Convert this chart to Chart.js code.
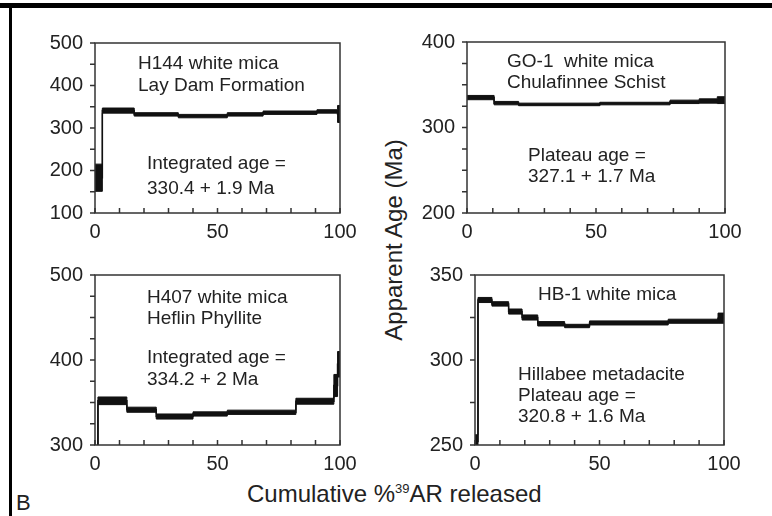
<!DOCTYPE html>
<html>
<head>
<meta charset="utf-8">
<script src="https://cdn.jsdelivr.net/npm/chart.js@4"></script>
<style>
  body { margin: 0; background: #fff; width: 772px; height: 516px; overflow: hidden; position: relative;
         font-family: "Liberation Sans", Arial, sans-serif; color: #222; }
  canvas { position: absolute; }
  .t { position: absolute; white-space: pre; line-height: 1; transform: translateY(-50%); }
  .topbar { position: absolute; left: 0; top: 3px; width: 772px; height: 5px; background: #000; }
  .leftbar { position: absolute; left: 9px; top: 3px; width: 3px; height: 513px; background: #000; }
</style>
</head>
<body>
<div class="topbar"></div>
<div class="leftbar"></div>

<canvas id="c1" width="320" height="222" style="left:45px;top:21px"></canvas>
<canvas id="c2" width="333" height="223" style="left:417px;top:20px"></canvas>
<canvas id="c3" width="320" height="222" style="left:45px;top:253px"></canvas>
<canvas id="c4" width="324" height="222" style="left:425px;top:253px"></canvas>

<div class="t" style="left:138px;top:62px;font-size:19px">H144 white mica</div>
<div class="t" style="left:138px;top:84px;font-size:19px">Lay Dam Formation</div>
<div class="t" style="left:147px;top:162px;font-size:19px">Integrated age =</div>
<div class="t" style="left:147px;top:187px;font-size:19px">330.4 + 1.9 Ma</div>

<div class="t" style="left:507px;top:60px;font-size:19px">GO-1  white mica</div>
<div class="t" style="left:507px;top:81px;font-size:19px">Chulafinnee Schist</div>
<div class="t" style="left:528px;top:154px;font-size:19px">Plateau age =</div>
<div class="t" style="left:528px;top:175px;font-size:19px">327.1 + 1.7 Ma</div>

<div class="t" style="left:147px;top:296px;font-size:19px">H407 white mica</div>
<div class="t" style="left:147px;top:317px;font-size:19px">Heflin Phyllite</div>
<div class="t" style="left:147px;top:356px;font-size:19px">Integrated age =</div>
<div class="t" style="left:147px;top:378px;font-size:19px">334.2 + 2 Ma</div>

<div class="t" style="left:538px;top:293px;font-size:19px">HB-1 white mica</div>
<div class="t" style="left:518px;top:373px;font-size:19px">Hillabee metadacite</div>
<div class="t" style="left:518px;top:394px;font-size:19px">Plateau age =</div>
<div class="t" style="left:518px;top:415px;font-size:19px">320.8 + 1.6 Ma</div>

<div class="t" style="left:394px;top:240px;font-size:24px;transform:translate(-50%,-50%) rotate(-90deg)">Apparent Age (Ma)</div>
<div class="t" style="left:247px;top:494px;font-size:24px">Cumulative %<sup style="font-size:13px;vertical-align:9px">39</sup>AR released</div>
<div class="t" style="left:16px;top:503px;font-size:22px">B</div>

<script>
// step edges (cumulative % 39Ar), apparent ages and errors (Ma) for each sample
const h144Edges = [0, 3, 16, 34, 54, 68.6, 90.6, 99, 100];
const h144Ages  = [183, 341, 332, 328, 332, 336, 339, 333];
const h144Errs  = [32, 6, 4, 4, 4, 4, 4, 20];

const go1Edges = [0, 10.5, 20, 51.5, 78.7, 90, 97, 100];
const go1Ages  = [335, 328.5, 327, 328, 330, 331, 332];
const go1Errs  = [2.5, 2, 1.5, 1.5, 2, 2.5, 4];

const h407Edges = [0, 1.2, 13, 25, 40, 54, 82, 97.5, 99, 100];
const h407Ages  = [290, 352, 341.5, 333.5, 336.5, 338.5, 351.5, 370, 395];
const h407Errs  = [5, 4.5, 3, 3, 2.5, 2.5, 3.5, 13, 15];

const hb1Edges = [0, 1.2, 6.8, 13.5, 18.9, 25.2, 36, 46, 77.6, 97.6, 100];
const hb1Ages  = [252, 335.3, 333, 328.5, 325, 321.3, 320, 321.8, 322.8, 324.6];
const hb1Errs  = [4, 1.5, 1.3, 1.5, 1.5, 1.3, 1, 1.2, 1.2, 3];

// axis ranges: [min, max, minor tick step, label step]
const h144Axis = [100, 500, 50, 100];
const go1Axis  = [200, 400, 25, 100];
const h407Axis = [300, 500, 25, 100];
const hb1Axis  = [250, 350, 25, 50];

const xTicks = [0, 10, 20, 30, 40, 50, 60, 70, 80, 90, 100];
const xLabels = [0, 50, 100];

function stepPoints(edges, vals, sign, errs) {
    return edges.map((x, i) => {
        const k = Math.min(i, vals.length - 1);
        return { x: x, y: vals[k] + sign * (errs ? errs[k] : 0) };
    });
}

// box round the plot, x ticks pointing in, y ticks pointing out
const framePlugin = {
    id: 'frame',
    afterDatasetsDraw(chart, args, opts) {
        const ctx = chart.ctx;
        const a = chart.chartArea;
        const x = chart.scales.x, y = chart.scales.y;
        ctx.save();
        ctx.strokeStyle = '#333';
        ctx.lineWidth = 1.5;
        ctx.strokeRect(a.left, a.top, a.right - a.left, a.bottom - a.top);
        ctx.beginPath();
        xTicks.forEach(v => {
            const px = x.getPixelForValue(v);
            ctx.moveTo(px, a.bottom);
            ctx.lineTo(px, a.bottom - 5);
        });
        for (let v = y.min; v <= y.max; v += opts.step) {
            const py = y.getPixelForValue(v);
            ctx.moveTo(a.left, py);
            ctx.lineTo(a.left - 5, py);
        }
        ctx.stroke();
        ctx.restore();
    }
};

function createSpectrum(id, edges, ages, errs, axis) {
    const line = { borderColor: '#111', pointRadius: 0, stepped: true, tension: 0 };
    new Chart(document.getElementById(id), {
        type: 'line',
        data: {
            datasets: [
                Object.assign({ data: stepPoints(edges, ages, 1, errs), borderWidth: 1, fill: false }, line),
                Object.assign({ data: stepPoints(edges, ages, -1, errs), borderWidth: 1, fill: '-1', backgroundColor: '#111' }, line),
                Object.assign({ data: stepPoints(edges, ages, 0), borderWidth: 1.5, fill: false }, line)
            ]
        },
        options: {
            responsive: false,
            animation: false,
            devicePixelRatio: 1,
            layout: { padding: { top: 22, right: 25, left: 0, bottom: 0 } },
            plugins: { legend: { display: false }, tooltip: { enabled: false }, frame: { step: axis[2] } },
            scales: {
                x: {
                    type: 'linear', min: 0, max: 100,
                    afterFit(s) { s.height = 30; },
                    grid: { display: false },
                    border: { display: false },
                    afterBuildTicks(s) { s.ticks = xLabels.map(v => ({ value: v })); },
                    ticks: { color: '#222', padding: 1, maxRotation: 0, autoSkip: false,
                             font: { family: 'Liberation Sans', size: 20, lineHeight: 1 } }
                },
                y: {
                    min: axis[0], max: axis[1],
                    afterFit(s) { s.width = 50; },
                    border: { display: false },
                    grid: { display: false, drawTicks: false },
                    ticks: {
                        stepSize: axis[3], color: '#222', padding: 12, autoSkip: false,
                        font: { family: 'Liberation Sans', size: 20, lineHeight: 1 }
                    }
                }
            }
        },
        plugins: [framePlugin]
    });
}

createSpectrum('c1', h144Edges, h144Ages, h144Errs, h144Axis);
createSpectrum('c2', go1Edges, go1Ages, go1Errs, go1Axis);
createSpectrum('c3', h407Edges, h407Ages, h407Errs, h407Axis);
createSpectrum('c4', hb1Edges, hb1Ages, hb1Errs, hb1Axis);
</script>
</body>
</html>
